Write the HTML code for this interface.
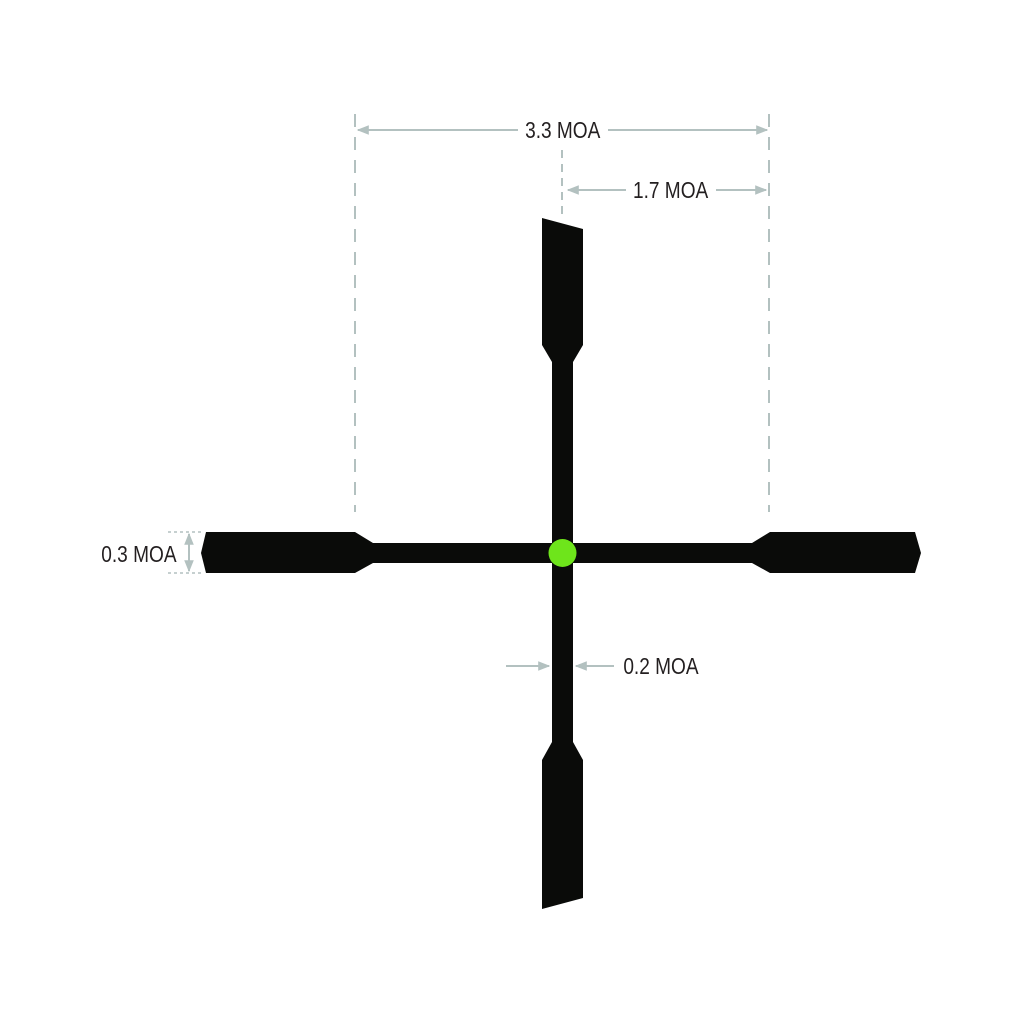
<!DOCTYPE html>
<html><head><style>body{margin:0;background:#fff}</style></head><body>
<svg width="1024" height="1024" viewBox="0 0 1024 1024" xmlns="http://www.w3.org/2000/svg">
<defs>
<marker id="a" viewBox="0 0 10 10" refX="9" refY="5" markerWidth="12" markerHeight="12" markerUnits="userSpaceOnUse" orient="auto-start-reverse"><path d="M0,1 L10,5 L0,9 z" fill="#b3c1c0"/></marker>
</defs>
<g stroke="#b3c1c0" stroke-width="2" fill="none">
<line x1="355" y1="114" x2="355" y2="512" stroke-dasharray="13,10"/>
<line x1="769" y1="114" x2="769" y2="512" stroke-dasharray="13,10"/>
<line x1="562" y1="150" x2="562" y2="218" stroke-dasharray="8,6"/>
<line x1="358" y1="130" x2="518" y2="130" marker-start="url(#a)"/>
<line x1="608" y1="130" x2="767" y2="130" marker-end="url(#a)"/>
<line x1="568" y1="190" x2="626" y2="190" marker-start="url(#a)"/>
<line x1="716" y1="190" x2="766" y2="190" marker-end="url(#a)"/>
<line x1="506" y1="666" x2="549" y2="666" marker-end="url(#a)"/>
<line x1="576" y1="666" x2="614" y2="666" marker-start="url(#a)"/>
<line x1="189" y1="534" x2="189" y2="571" marker-start="url(#a)" marker-end="url(#a)"/>
<line x1="168" y1="532" x2="203" y2="532" stroke-dasharray="3,3" stroke-width="1.5"/>
<line x1="168" y1="573" x2="203" y2="573" stroke-dasharray="3,3" stroke-width="1.5"/>
</g>
<g font-family="'Liberation Sans',sans-serif" font-size="23" fill="#231f20" transform="scale(0.83,1)">
<text x="678" y="138" text-anchor="middle">3.3 MOA</text>
<text x="808" y="198" text-anchor="middle">1.7 MOA</text>
<text x="751" y="674">0.2 MOA</text>
<text x="122" y="562">0.3 MOA</text>
</g>
<g fill="#0a0b09">
<path d="M201,553 L206,532 L355,532 L373,543 L552,543 L552,362 L542,345 L542,218 L583,229 L583,345 L573,362 L573,543 L752,543 L770,532 L915,532 L921,553 L915,573 L770,573 L752,563 L573,563 L573,742 L583,760 L583,898 L542,909 L542,760 L552,742 L552,563 L373,563 L355,573 L206,573 Z"/>
</g>
<circle cx="562.5" cy="553" r="14" fill="#6ee51b"/>
</svg>
</body></html>
